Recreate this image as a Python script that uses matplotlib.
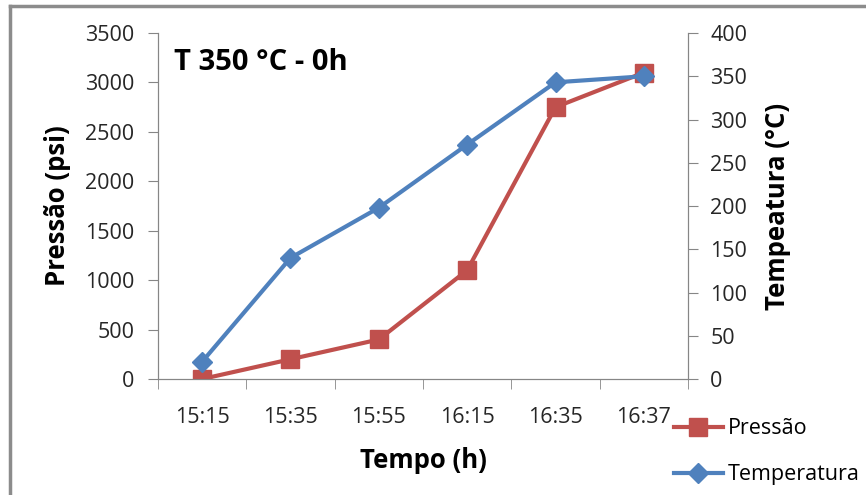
import numpy as np
import matplotlib.pyplot as plt
from matplotlib.lines import Line2D

plt.rcParams['font.family'] = ['Open Sans', 'DejaVu Sans']

horarios = ["15:15", "15:35", "15:55", "16:15", "16:35", "16:37"]
pressao = [0, 200, 400, 1100, 2750, 3100]        # psi
temperatura = [20, 140, 198, 271, 343, 350]      # °C

RED = "#C0504D"
BLUE = "#4F81BD"
GRID = "#868686"
TXT = "#262626"

fig = plt.figure(figsize=(8.66, 4.95), dpi=100)
ax = fig.add_axes([0.1824, 0.2343, 0.6121, 0.699])
ax2 = ax.twinx()

x = np.arange(len(horarios))
ax.plot(x, pressao, color=RED, lw=3, marker="s", ms=13, zorder=3)
ax2.plot(x, temperatura, color=BLUE, lw=3, marker="D", ms=10, zorder=3)

ax.set_xlim(-0.5, len(horarios) - 0.5)
ax.set_ylim(0, 3500)
ax2.set_ylim(0, 400)
ax.set_yticks(np.arange(0, 3501, 500))
ax2.set_yticks(np.arange(0, 401, 50))
ax.set_xticks(x)
ax.set_xticklabels(horarios)
ax.set_xticks(np.arange(-0.5, len(horarios)), minor=True)
ax.tick_params(axis="x", which="major", length=0, pad=20)
ax.tick_params(axis="x", which="minor", length=7, color=GRID, direction="out")

for a in (ax, ax2):
    for s in a.spines.values():
        s.set_color(GRID)
    a.spines["top"].set_visible(False)
    a.tick_params(axis="y", length=7, color=GRID, labelsize=15.5, labelcolor=TXT)
ax.tick_params(axis="x", labelsize=15.5, labelcolor=TXT)
ax.tick_params(axis="y", pad=10)
ax2.tick_params(axis="y", pad=9)

ax.set_ylabel("Pressão (psi)", fontsize=18.5, fontweight="bold", labelpad=10)
ax2.set_ylabel("Tempeatura (°C)", fontsize=18.5, fontweight="bold", labelpad=12)
ax.set_xlabel("Tempo (h)", fontsize=18.5, fontweight="bold", labelpad=14)

ax.text(0.03, 0.915, "T 350 °C - 0h", transform=ax.transAxes, fontsize=21,
        fontweight="bold", va="center", ha="left")

handles = [Line2D([], [], color=RED, lw=3, marker="s", ms=13),
           Line2D([], [], color=BLUE, lw=3, marker="D", ms=10)]
fig.legend(handles, ["Pressão", "Temperatura"], loc="upper left",
           bbox_to_anchor=(0.768, 0.172), frameon=False, fontsize=15.5,
           handlelength=2.3, handletextpad=0.2, labelspacing=1.15,
           borderaxespad=0)

# chart frame (left and top edges only)
fig.add_artist(Line2D([0.011, 0.011], [0, 0.988], color="#8c8c8c", lw=2.5,
                      transform=fig.transFigure))
fig.add_artist(Line2D([0.011, 1], [0.988, 0.988], color="#8c8c8c", lw=2.5,
                      transform=fig.transFigure))

fig.savefig("out.png", dpi=100)
